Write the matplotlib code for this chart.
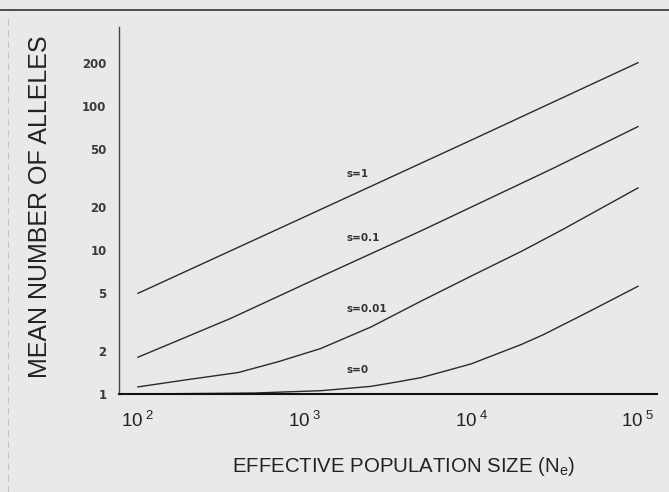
import numpy as np
import matplotlib.pyplot as plt
from matplotlib.lines import Line2D

plt.rcParams['font.family'] = ['Liberation Sans', 'DejaVu Sans']
plt.rcParams['mathtext.fontset'] = 'custom'
plt.rcParams['mathtext.rm'] = 'Liberation Sans'
plt.rcParams['mathtext.it'] = 'Liberation Sans'

# values (N_e, mean number of alleles)
n_s1 = [100, 1000, 10000, 100000]
y_s1 = [5.0, 17.0, 58.0, 200.0]

n_s01 = [100, 360, 1250, 5000, 7600, 30000, 100000]
y_s01 = [1.8, 3.35, 6.53, 13.6, 17.1, 36.3, 72.0]

n_s001 = [100, 200, 400, 700, 1250, 2500, 5000, 10000, 20000, 35000, 100000]
y_s001 = [1.12, 1.26, 1.41, 1.68, 2.07, 2.92, 4.42, 6.6, 9.8, 13.8, 27.0]

n_s0 = [100, 500, 1250, 2500, 3550, 5000, 7080, 10000, 14100, 20000, 27000, 48000, 100000]
y_s0 = [1.0, 1.016, 1.054, 1.13, 1.21, 1.30, 1.45, 1.62, 1.89, 2.21, 2.58, 3.61, 5.6]

curve_labels = ['s=1', 's=0.1', 's=0.01', 's=0']
label_x = 1790
label_y = [34, 12.1, 3.9, 1.47]

yticks = [1, 2, 5, 10, 20, 50, 100, 200]
xticks = [1e2, 1e3, 1e4, 1e5]
xticklabels = [r'$10^{\ 2}$', r'$10^{\ 3}$', r'$10^{\ 4}$', r'$10^{\ 5}$']

bg = '#e8eaea'
fig = plt.figure(figsize=(6.69, 4.92), dpi=100, facecolor=bg)
ax = fig.add_axes([119 / 669, 1 - 394 / 492, 538 / 669, 367 / 492])
ax.set_facecolor(bg)

for n, y in [(n_s1, y_s1), (n_s01, y_s01), (n_s001, y_s001), (n_s0, y_s0)]:
    ax.plot(n, y, color='#2a2a2a', lw=1.0)

for lab, ly in zip(curve_labels, label_y):
    ax.text(label_x, ly, lab, fontsize=7.5, family='DejaVu Sans',
            fontweight='bold', color='#333333', ha='left', va='center')

ax.set_xscale('log')
ax.set_yscale('log')
ax.set_xlim(77, 130000)
ax.set_ylim(1, 354)

ax.set_yticks(yticks)
ax.set_yticklabels([str(t) for t in yticks], fontsize=8.5, family='DejaVu Sans',
                   fontweight='bold', color='#3a3a3a')
ax.set_xticks(xticks)
ax.set_xticklabels(xticklabels, fontsize=13.5, color='#222222')
ax.minorticks_off()
ax.tick_params(axis='y', length=0, pad=9)
ax.tick_params(axis='x', length=0, pad=12)

for side in ['top', 'right']:
    ax.spines[side].set_visible(False)
ax.spines['left'].set_color('#444444')
ax.spines['left'].set_linewidth(1.0)
ax.spines['bottom'].set_color('#111111')
ax.spines['bottom'].set_linewidth(1.5)

fig.text(40 / 669, 1 - 207 / 492, 'MEAN NUMBER OF ALLELES', rotation=90,
         ha='center', va='center', fontsize=18, color='#222222')
fig.text(404 / 669, 1 - 467 / 492, r'EFFECTIVE POPULATION SIZE (N$_\mathregular{e}$)',
         ha='center', va='center', fontsize=14.7, color='#222222')

# scan border lines
fig.add_artist(Line2D([0.0, 1.0], [1 - 10 / 492, 1 - 10 / 492],
                      transform=fig.transFigure, color='#333333', lw=1.2))
fig.add_artist(Line2D([8 / 669, 8 / 669], [0.0, 1 - 14 / 492],
                      transform=fig.transFigure, color='#c4c4c4', lw=0.8,
                      ls=(0, (6, 4))))

fig.savefig('out.png', dpi=100, facecolor=bg)
